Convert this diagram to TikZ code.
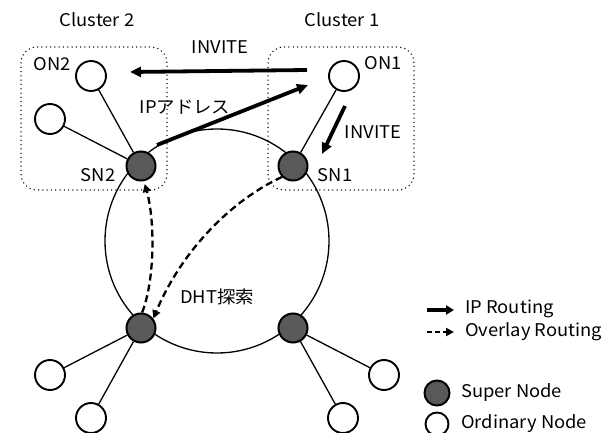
\documentclass[tikz,border=0pt]{standalone}
\usepackage{fontspec}
\newfontfamily\jpfont[FakeStretch=1.05]{Noto Sans CJK JP}
\usetikzlibrary{arrows.meta}
\definecolor{superfill}{RGB}{89,89,89}
\tikzset{
  supernode/.style={circle, draw, line width=2pt, fill=superfill, minimum size=29pt, inner sep=0pt},
  ordnode/.style={circle, draw, line width=1.9pt, fill=white, minimum size=30pt, inner sep=0pt},
  link/.style={line width=1.3pt},
  cluster/.style={line width=1.5pt, line cap=round, dash pattern=on 0pt off 4.3pt, rounded corners=16pt},
  iproute/.style={line width=3.8pt, -{Triangle[length=11pt,width=10pt]}},
  ovroute/.style={line width=2.3pt, dash pattern=on 7pt off 4pt, -{Triangle[length=8pt,width=8pt]}},
  lbl/.style={font=\jpfont\fontsize{17.5}{20}\selectfont, inner sep=0pt},
}
\begin{document}
\begin{tikzpicture}[x=1pt, y=-1pt]
\clip (0,0) rectangle (603,433);
\fill[white] (0,0) rectangle (603,433);

% cluster frames
\draw[cluster] (21,47) rectangle (167,190);
\draw[cluster] (268,47) rectangle (414,190);
\node[lbl] (c2) at (97,20) {Cluster 2};
\node[lbl] (c1) at (342,20) {Cluster 1};

% DHT ring
\draw[line width=1.3pt] (217,241) circle (112);

% ordinary and super nodes
\node[ordnode] (on2) at (91,76) {};
\node[ordnode] (on2b) at (50,119) {};
\node[ordnode] (on1) at (344,76) {};
\node[ordnode] (bl1) at (50,375) {};
\node[ordnode] (bl2) at (91,418) {};
\node[ordnode] (br1) at (384,375) {};
\node[ordnode] (br2) at (343,418) {};

\node[supernode] (sn2) at (141,166) {};
\node[supernode] (sn1) at (293,166) {};
\node[supernode] (snl) at (141,328) {};
\node[supernode] (snr) at (293,328) {};

\draw[link] (sn2) -- (on2);
\draw[link] (sn2) -- (on2b);
\draw[link] (sn1) -- (on1);
\draw[link] (snl) -- (bl1);
\draw[link] (snl) -- (bl2);
\draw[link] (snr) -- (br1);
\draw[link] (snr) -- (br2);

% node labels
\node[lbl] (lon2) at (52,64) {ON2};
\node[lbl] (lon1) at (383,63) {ON1};
\node[lbl] (lsn2) at (98,175) {SN2};
\node[lbl] (lsn1) at (335,175) {SN1};

% IP routing
\coordinate (i1s) at (307,70);
\coordinate (i1e) at (130,72);
\draw[iproute] (i1s) -- (i1e);
\node[lbl] (linv1) at (220,47) {INVITE};

\coordinate (ips) at (157,145);
\coordinate (ipe) at (308,85);
\draw[iproute] (ips) -- (ipe);
\node[lbl] (lip) at (185,107) {IPアドレス};

\coordinate (i2s) at (345,106);
\coordinate (i2e) at (322,154);
\draw[iproute] (i2s) -- (i2e);
\node[lbl] (linv2) at (373,132) {INVITE};

% overlay routing
\draw[ovroute] (snl.86) .. controls (155,280) and (155,220) .. ([yshift=-3pt]sn2.-76);
\draw[ovroute] (sn1.225) .. controls (232,200) and (182,250) .. ([shift={(1pt,-1pt)}]snl.43);
\node[lbl] (ldht) at (217,297) {DHT探索};

% legend
\coordinate (la1) at (427,310);
\coordinate (lb1) at (454,310);
\draw[line width=3.4pt, -{Triangle[length=8pt,width=9pt]}] (la1) -- (lb1);
\node[lbl, anchor=west] (lt1) at (465,309) {IP Routing};
\coordinate (la2) at (427,332);
\coordinate (lb2) at (454,332);
\draw[line width=2.2pt, dash pattern=on 5pt off 3pt, -{Triangle[length=8pt,width=8pt]}] (la2) -- (lb2);
\node[lbl, anchor=west] (lt2) at (465,332) {Overlay Routing};

\node[supernode, minimum size=25pt] (lsn) at (437,393) {};
\node[lbl, anchor=west] (lt3) at (461,393) {Super Node};
\node[ordnode, minimum size=23pt] (lon) at (437,424) {};
\node[lbl, anchor=west] (lt4) at (461,424) {Ordinary Node};
\end{tikzpicture}
\end{document}
